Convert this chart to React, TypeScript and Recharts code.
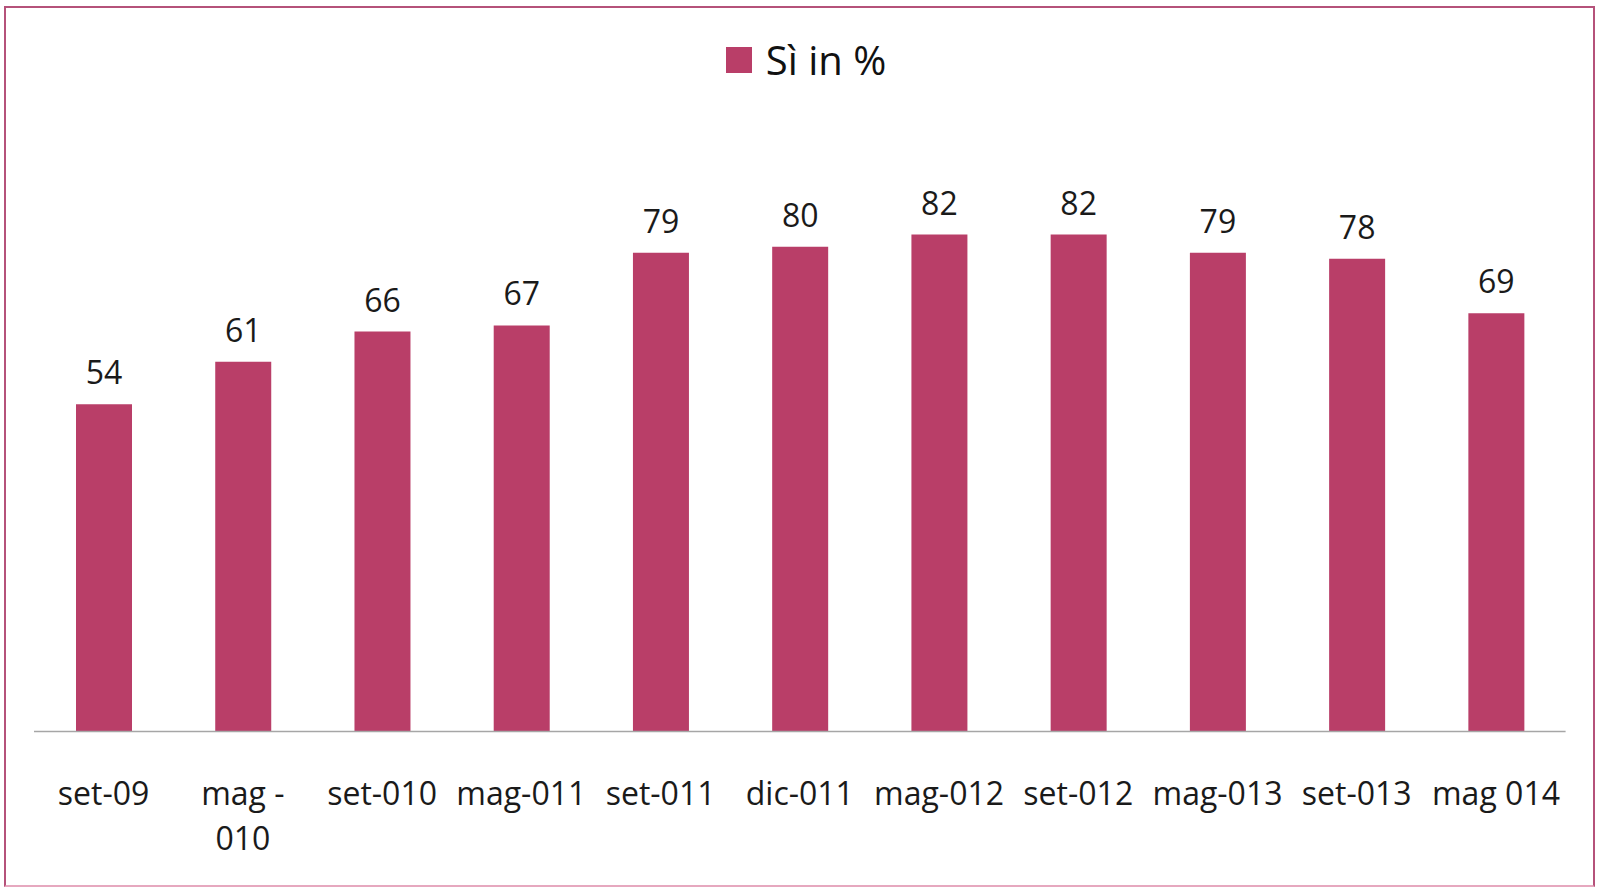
import { Bar, BarChart, LabelList, Legend, XAxis, YAxis } from "recharts"

const categories = [
  "set-09",
  "mag -010",
  "set-010",
  "mag-011",
  "set-011",
  "dic-011",
  "mag-012",
  "set-012",
  "mag-013",
  "set-013",
  "mag 014",
]
const siValues = [54, 61, 66, 67, 79, 80, 82, 82, 79, 78, 69]
const seriesName = "Sì in %"

const FONT = "'Open Sans', 'Noto Sans', sans-serif"
const BAR_COLOR = "#b93e68"

const data = categories.map((period, i) => ({ period, value: siValues[i] }))

// Excel wraps "mag -010" after the dash, so split it the same way
function CategoryTick({ x, y, payload }: any) {
  const label: string = String(payload.value)
  const lines = label.includes(" -") ? label.split(/(?<= -)/) : [label]
  return (
    <g transform={`translate(${x},${y})`}>
      <text textAnchor="middle" fontFamily={FONT} fontSize={32} fill="#1a1a1a">
        {lines.map((line, i) => (
          <tspan key={i} x={0} y={73 + i * 45}>
            {line}
          </tspan>
        ))}
      </text>
    </g>
  )
}

function LegendContent() {
  return (
    <div
      style={{
        display: "flex",
        justifyContent: "center",
        alignItems: "center",
        paddingLeft: 10,
        height: 40,
      }}
    >
      <span style={{ width: 26, height: 26, background: BAR_COLOR, marginRight: 14 }} />
      <span style={{ fontFamily: FONT, fontSize: 40, lineHeight: "40px", color: "#111" }}>
        {seriesName}
      </span>
    </div>
  )
}

export default function App() {
  return (
    <div style={{ position: "absolute", left: 0, top: 0, width: 1602, height: 887, background: "#fff" }}>
      <div
        style={{
          position: "absolute",
          left: 4,
          top: 6,
          width: 1591,
          height: 881,
          boxSizing: "border-box",
          border: "2px solid #b5527a",
          borderBottomColor: "#e6a8bf",
        }}
      />
      <div style={{ position: "absolute", left: 0, top: 0 }}>
        <BarChart
          width={1602}
          height={887}
          data={data}
          margin={{ top: 125.5, right: 36.4, bottom: 35.5, left: 34 }}
          barSize={56}
        >
          <XAxis
            dataKey="period"
            axisLine={{ stroke: "#a6a6a6", strokeWidth: 1.5 }}
            tickLine={false}
            tickSize={0}
            tickMargin={0}
            interval={0}
            height={120}
            tick={<CategoryTick />}
          />
          <YAxis hide domain={[0, 100]} />
          <Legend
            verticalAlign="middle"
            align="center"
            layout="horizontal"
            wrapperStyle={{ top: 40, left: 0, width: 1602 }}
            content={<LegendContent />}
          />
          <Bar dataKey="value" name={seriesName} fill={BAR_COLOR} isAnimationActive={false}>
            <LabelList
              dataKey="value"
              position="top"
              offset={20}
              fontFamily={FONT}
              fontSize={32}
              fill="#1a1a1a"
            />
          </Bar>
        </BarChart>
      </div>
    </div>
  )
}
